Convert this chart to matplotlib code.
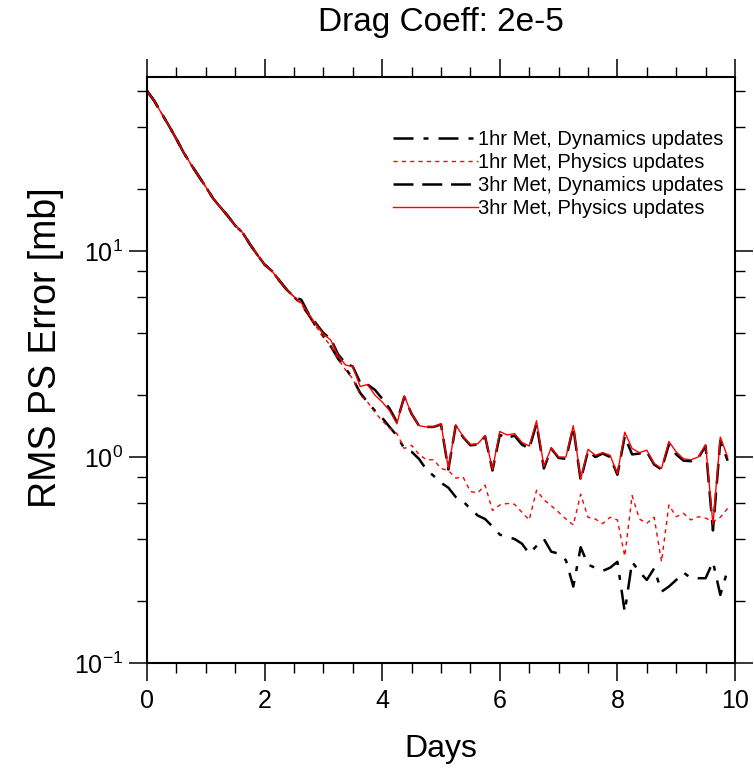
import numpy as np
import matplotlib
matplotlib.use("Agg")
import matplotlib.pyplot as plt
from matplotlib.ticker import LogLocator, MultipleLocator, NullFormatter

plt.rcParams['font.family'] = ['Liberation Sans', 'DejaVu Sans']
plt.rcParams['mathtext.fontset'] = 'custom'
plt.rcParams['mathtext.rm'] = 'Liberation Sans'
plt.rcParams['mathtext.it'] = 'Liberation Sans'
plt.rcParams['mathtext.bf'] = 'Liberation Sans'

title = "Drag Coeff: 2e-5"
xlabel = "Days"
ylabel = "RMS PS Error [mb]"
labels = ["1hr Met, Dynamics updates", "1hr Met, Physics updates",
          "3hr Met, Dynamics updates", "3hr Met, Physics updates"]

days = np.arange(80) * 0.125

dyn_1hr = [60, 53.5, 46.5, 40.5, 35, 30, 26.3, 23.2, 20.5, 18.0,
           16.3, 14.8, 13.3, 12.3, 10.8, 9.6, 8.6, 8.0, 7.2, 6.5,
           6.0, 5.5, 4.9, 4.3, 3.85, 3.45, 3.0, 2.7, 2.4, 2.05,
           1.85, 1.68, 1.55, 1.40, 1.27, 1.10, 1.06, 0.98, 0.87, 0.81,
           0.75, 0.71, 0.64, 0.61, 0.56, 0.52, 0.50, 0.46, 0.42, 0.41,
           0.40, 0.38, 0.34, 0.37, 0.40, 0.347, 0.34, 0.315, 0.235, 0.365,
           0.30, 0.29, 0.28, 0.29, 0.31, 0.177, 0.31, 0.277, 0.253, 0.288,
           0.222, 0.235, 0.253, 0.275, 0.258, 0.258, 0.258, 0.31, 0.214, 0.283]

phys_1hr = [60, 53.5, 46.5, 40.5, 35, 30, 26.3, 23.2, 20.5, 18.0,
            16.3, 14.8, 13.3, 12.3, 10.8, 9.6, 8.6, 8.0, 7.2, 6.5,
            6.0, 5.5, 4.9, 4.3, 3.85, 3.45, 3.0, 2.65, 2.4, 2.0,
            1.85, 1.65, 1.5, 1.38, 1.30, 1.10, 1.14, 1.03, 0.97, 0.97,
            0.88, 0.86, 0.79, 0.80, 0.68, 0.67, 0.73, 0.55, 0.585, 0.595,
            0.59, 0.54, 0.495, 0.69, 0.62, 0.58, 0.54, 0.50, 0.468, 0.66,
            0.51, 0.50, 0.475, 0.51, 0.495, 0.33, 0.65, 0.50, 0.477, 0.51,
            0.31, 0.585, 0.513, 0.533, 0.495, 0.513, 0.505, 0.485, 0.51, 0.563]

dyn_3hr = [60, 53.5, 46.5, 40.5, 35, 30, 26.3, 23.2, 20.5, 18.0,
           16.3, 14.8, 13.3, 12.3, 10.8, 9.6, 8.6, 8.0, 7.2, 6.5,
           6.0, 5.8, 4.95, 4.45, 4.0, 3.75, 3.15, 2.85, 2.75, 2.3,
           2.25, 2.12, 1.92, 1.72, 1.48, 1.96, 1.62, 1.42, 1.40, 1.40,
           1.44, 0.87, 1.42, 1.25, 1.14, 1.15, 1.26, 0.86, 1.28, 1.24,
           1.27, 1.15, 1.10, 1.45, 0.88, 1.10, 0.99, 0.98, 1.40, 0.77,
           1.07, 1.0, 1.04, 1.0, 0.82, 1.26, 1.03, 1.04, 1.06, 0.92,
           0.87, 1.15, 1.03, 0.96, 0.955, 0.99, 1.13, 0.44, 1.20, 0.96]

phys_3hr = [60, 53.5, 46.5, 40.5, 35, 30, 26.3, 23.2, 20.5, 18.0,
            16.3, 14.8, 13.3, 12.3, 10.8, 9.6, 8.6, 8.0, 7.2, 6.5,
            6.0, 5.6, 4.95, 4.4, 3.95, 3.7, 3.1, 2.8, 2.75, 2.2,
            2.25, 2.0, 1.85, 1.68, 1.45, 1.98, 1.62, 1.42, 1.40, 1.40,
            1.45, 0.88, 1.43, 1.26, 1.15, 1.16, 1.27, 0.87, 1.33, 1.28,
            1.30, 1.18, 1.13, 1.50, 0.90, 1.11, 1.0, 1.0, 1.42, 0.78,
            1.09, 1.02, 1.05, 1.02, 0.83, 1.32, 1.10, 1.05, 1.08, 0.93,
            0.88, 1.19, 1.06, 0.98, 0.97, 1.0, 1.15, 0.47, 1.25, 1.0]

fig = plt.figure(figsize=(7.54, 7.72), dpi=100)
ax = fig.add_axes([147/754, 1-663/772, (735-147)/754, (663-77)/772])

ax.plot(days, dyn_1hr, color='black', lw=1.8, dashes=(8, 4, 2, 4), label=labels[0])
ax.plot(days, phys_1hr, color='red', lw=1.0, dashes=(3, 3), label=labels[1])
ax.plot(days, dyn_3hr, color='black', lw=1.8, dashes=(8, 3.5), label=labels[2])
ax.plot(days, phys_3hr, color='red', lw=1.0, label=labels[3])

ax.set_yscale('log')
ax.set_xlim(0, 10)
ax.set_ylim(0.1, 70)
ax.xaxis.set_major_locator(MultipleLocator(2))
ax.xaxis.set_minor_locator(MultipleLocator(0.5))
ax.yaxis.set_major_locator(LogLocator(base=10, numticks=10))
ax.yaxis.set_minor_locator(LogLocator(base=10, subs=(2, 4, 6, 8), numticks=10))
ax.yaxis.set_minor_formatter(NullFormatter())

for s in ax.spines.values():
    s.set_linewidth(1.5)
ax.tick_params(which='both', direction='out', top=True, right=True,
               labeltop=False, labelright=False, labelsize=18)
ax.tick_params(which='major', length=13, width=1.1)
ax.tick_params(which='minor', length=7, width=1.0)
ax.tick_params(axis='x', which='major', pad=6)
ax.tick_params(axis='y', which='major', pad=4)

ax.set_title(title, fontsize=24, pad=33)
fig.text(441/754, 1-749/772, xlabel, fontsize=23, ha='center', va='center')
fig.text(46/754, 1-348/772, ylabel, fontsize=27, rotation=90, ha='center', va='center')

leg = ax.legend(loc='upper left', bbox_to_anchor=((393-147)/588, (663-130)/586),
                frameon=False, fontsize=14.5, handlelength=4.2, handletextpad=0.0,
                labelspacing=0.2, borderpad=0, borderaxespad=0)

fig.savefig('out.png', dpi=100)
